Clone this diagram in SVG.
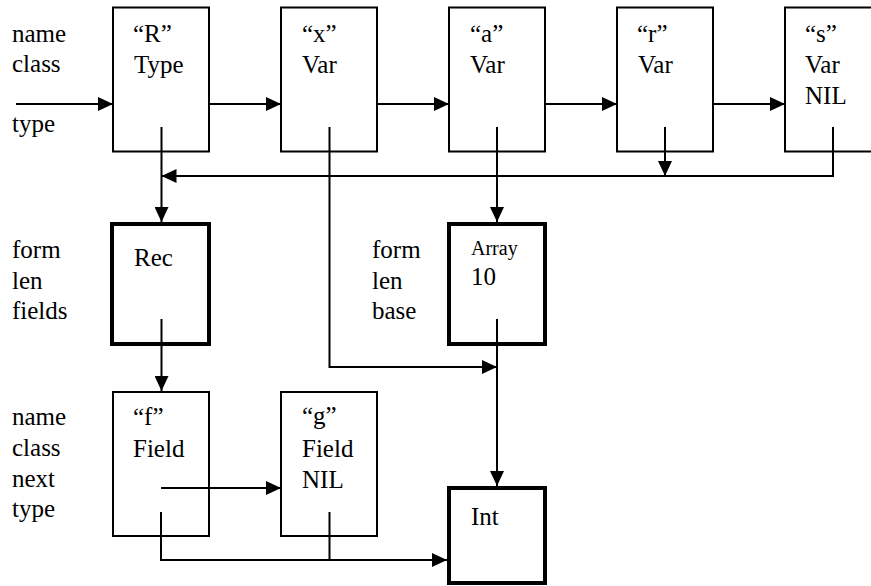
<svg xmlns="http://www.w3.org/2000/svg" width="871" height="586" viewBox="0 0 871 586">
<defs>
<marker id="ah" markerUnits="userSpaceOnUse" markerWidth="16" markerHeight="14" refX="15" refY="7" orient="auto">
<path d="M0,0 L15,7 L0,14 Z" fill="#000" stroke="none"/>
</marker>
</defs>
<rect width="871" height="586" fill="#fff"/>
<g font-family="Liberation Serif" font-size="25" fill="#000">
<g id="labels">
<text x="12" y="42">name</text>
<text x="12" y="72">class</text>
<text x="12" y="132">type</text>
<text x="12" y="258">form</text>
<text x="12" y="289">len</text>
<text x="12" y="319">fields</text>
<text x="372" y="258">form</text>
<text x="372" y="289">len</text>
<text x="372" y="319">base</text>
<text x="12" y="425">name</text>
<text x="12" y="456">class</text>
<text x="12" y="487">next</text>
<text x="12" y="517">type</text>
</g>
<g id="nR"><rect x="113" y="7.5" width="96" height="144" fill="#fff" stroke="#000" stroke-width="2"/><text x="133" y="42">&#8220;R&#8221;</text><text x="134" y="73">Type</text></g>
<g id="nx"><rect x="281" y="7.5" width="96" height="144" fill="#fff" stroke="#000" stroke-width="2"/><text x="302" y="42">&#8220;x&#8221;</text><text x="302" y="73">Var</text></g>
<g id="na"><rect x="449" y="7.5" width="96" height="144" fill="#fff" stroke="#000" stroke-width="2"/><text x="470" y="42">&#8220;a&#8221;</text><text x="470" y="73">Var</text></g>
<g id="nr"><rect x="617" y="7.5" width="96" height="144" fill="#fff" stroke="#000" stroke-width="2"/><text x="637" y="42">&#8220;r&#8221;</text><text x="638" y="73">Var</text></g>
<g id="ns"><rect x="785" y="7.5" width="96" height="144" fill="#fff" stroke="#000" stroke-width="2"/><text x="805" y="42">&#8220;s&#8221;</text><text x="805" y="73">Var</text><text x="805" y="104">NIL</text></g>
<g id="nRec"><rect x="112" y="224" width="97" height="120" fill="#fff" stroke="#000" stroke-width="4"/><text x="134" y="266">Rec</text></g>
<g id="nArray"><rect x="449" y="224" width="96" height="120" fill="#fff" stroke="#000" stroke-width="4"/><text x="471" y="255" font-size="20">Array</text><text x="471" y="285">10</text></g>
<g id="nf"><rect x="113" y="392" width="96" height="144" fill="#fff" stroke="#000" stroke-width="2"/><text x="133" y="425">&#8220;f&#8221;</text><text x="133" y="457">Field</text></g>
<g id="ng"><rect x="281" y="392" width="96" height="144" fill="#fff" stroke="#000" stroke-width="2"/><text x="302" y="424">&#8220;g&#8221;</text><text x="302" y="457">Field</text><text x="302" y="488">NIL</text></g>
<g id="nInt"><rect x="449" y="488" width="96" height="95" fill="#fff" stroke="#000" stroke-width="4"/><text x="471" y="525">Int</text></g>
</g>
<g id="connectors" fill="none" stroke="#000" stroke-width="2">
<path marker-end="url(#ah)" d="M16,104 H113"/>
<path marker-end="url(#ah)" d="M209,104 H281"/>
<path marker-end="url(#ah)" d="M377,104 H449"/>
<path marker-end="url(#ah)" d="M545,104 H617"/>
<path marker-end="url(#ah)" d="M713,104 H785"/>
<path marker-end="url(#ah)" d="M161.5,127 V222"/>
<path marker-end="url(#ah)" d="M833,127 V176 H161.5"/>
<path marker-end="url(#ah)" d="M665,127 V176"/>
<path marker-end="url(#ah)" d="M497,127 V222"/>
<path marker-end="url(#ah)" d="M329.5,127 V367 H497"/>
<path marker-end="url(#ah)" d="M161.5,319 V391"/>
<path marker-end="url(#ah)" d="M497,319 V486"/>
<path marker-end="url(#ah)" d="M161,488 H281"/>
<path marker-end="url(#ah)" d="M161,512 V560 H447"/>
<path d="M329.5,512 V560"/>
</g>
</svg>
